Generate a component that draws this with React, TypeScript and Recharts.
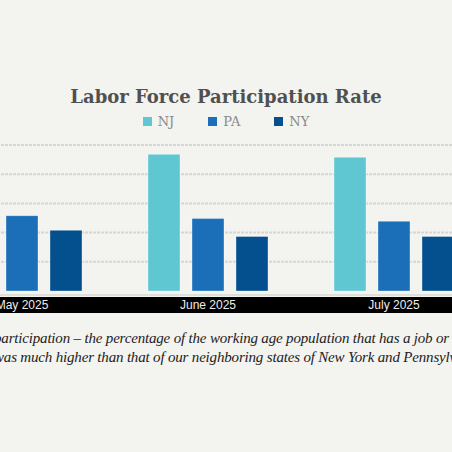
import { Bar, BarChart, CartesianGrid, XAxis, YAxis } from "recharts";

// Monthly labor force participation rate (%)
const months = ["May 2025", "June 2025", "July 2025"];
const njRate = [63.7, 63.68, 63.58];
const paRate = [61.58, 61.48, 61.39];
const nyRate = [61.08, 60.87, 60.87];
const gridTicks = [60, 61, 62, 63, 64];

const SERIES = [
  { key: "NJ", color: "#5fc7d1" },
  { key: "PA", color: "#1b6fb9" },
  { key: "NY", color: "#04508f" },
];

const CHART_W = 558;
const CHART_H = 181;
const BAND = CHART_W / months.length;
const BG = "#f3f3ef";

const data = months.map((m, i) => ({
  month: m,
  NJ: njRate[i],
  PA: paRate[i],
  NY: nyRate[i],
}));

function MonthTick({ x, y, payload }: { x?: number; y?: number; payload?: { value: string } }) {
  const cx = x ?? 0;
  const cy = y ?? 0;
  return (
    <g>
      <line x1={cx - BAND / 2} x2={cx + BAND / 2} y1={cy + 2} y2={cy + 2} stroke="#dededb" strokeWidth={2} />
      <rect x={cx - BAND / 2} y={cy + 4} width={BAND} height={16} fill="#000" />
      <text
        x={cx}
        y={cy + 15.8}
        textAnchor="middle"
        fill="#ececec"
        fontSize={12}
        fontFamily="'Liberation Sans', Arial, sans-serif"
      >
        {payload?.value}
      </text>
    </g>
  );
}

export default function App() {
  return (
    <div
      style={{
        position: "absolute",
        left: 0,
        top: 0,
        width: 452,
        height: 452,
        overflow: "hidden",
        background: BG,
      }}
    >
      <div
        style={{
          position: "absolute",
          top: 86,
          left: 0,
          width: 452,
          textAlign: "center",
          fontFamily: "'DejaVu Serif', serif",
          fontWeight: 700,
          fontSize: 18,
          lineHeight: "21px",
          color: "#505050",
          whiteSpace: "nowrap",
        }}
      >
        Labor Force Participation Rate
      </div>

      {/* legend */}
      <div
        style={{
          position: "absolute",
          top: 114,
          left: 0,
          width: 452,
          display: "flex",
          justifyContent: "center",
          gap: 34,
          fontFamily: "'DejaVu Serif', serif",
          fontSize: 13,
          color: "#8a8a8a",
        }}
      >
        {SERIES.map((s) => (
          <div key={s.key} style={{ display: "flex", alignItems: "center", gap: 6 }}>
            <span style={{ width: 9, height: 9, background: s.color, display: "inline-block" }} />
            <span>{s.key}</span>
          </div>
        ))}
      </div>

      <div style={{ position: "absolute", top: 140, left: -71 }}>
        <BarChart
          width={CHART_W}
          height={CHART_H}
          data={data}
          margin={{ top: 5, right: 0, bottom: 0, left: 0 }}
          barGap={12}
          barSize={32}
        >
          <CartesianGrid
            vertical={false}
            horizontalValues={gridTicks}
            stroke="#d6d6d4"
            strokeWidth={2}
            strokeDasharray="3 1"
          />
          <YAxis hide domain={[59, 64]} ticks={gridTicks} />
          <XAxis
            dataKey="month"
            axisLine={false}
            tickLine={false}
            tickSize={0}
            height={30}
            interval={0}
            tick={<MonthTick />}
          />
          {SERIES.map((s) => (
            <Bar
              key={s.key}
              dataKey={s.key}
              fill={s.color}
              stroke="rgba(255,255,255,0.35)"
              strokeWidth={1}
              isAnimationActive={false}
            />
          ))}
        </BarChart>
      </div>

      {/* caption below the chart */}
      <div
        style={{
          position: "absolute",
          top: 329,
          left: -6,
          fontFamily: "'Liberation Serif', serif",
          fontStyle: "italic",
          fontSize: 15,
          letterSpacing: -0.18,
          lineHeight: "18.5px",
          color: "#222",
          whiteSpace: "nowrap",
        }}
      >
        <div>participation – the percentage of the working age population that has a job or is looking for one –</div>
        <div>was much higher than that of our neighboring states of New York and Pennsylvania.</div>
      </div>
    </div>
  );
}
